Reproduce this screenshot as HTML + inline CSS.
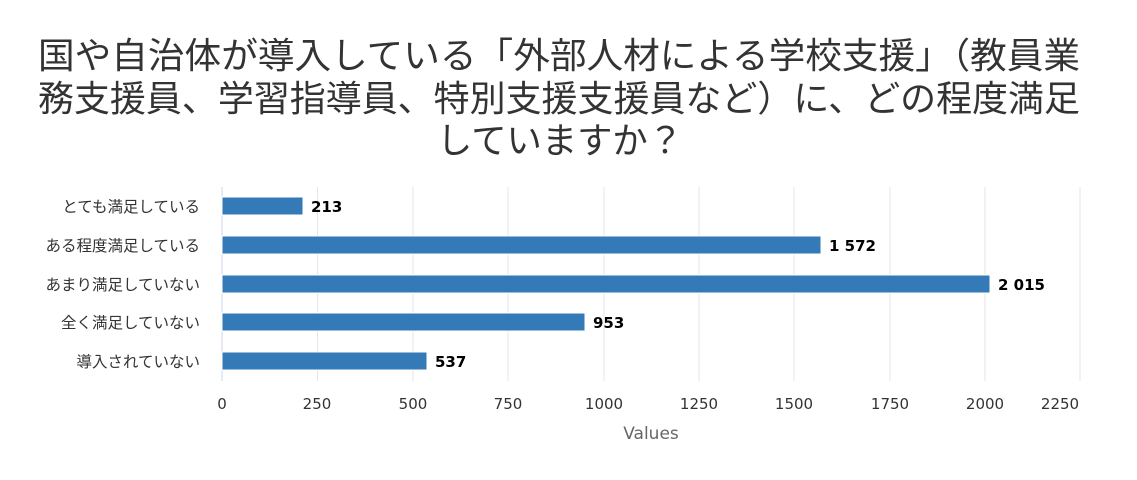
<!DOCTYPE html>
<html><head><meta charset="utf-8"><style>
body{margin:0;background:#fff;}
svg{display:block;font-family:"Liberation Sans","Noto Sans CJK JP",sans-serif;}
</style></head><body>
<svg width="1137" height="480" viewBox="0 0 1137 480">
<g font-size="36" fill="#333">
<text x="38" y="68" textLength="1042" lengthAdjust="spacingAndGlyphs">国や自治体が導入している「外部人材による学校支援」（教員業</text>
<text x="38" y="111" textLength="1042" lengthAdjust="spacingAndGlyphs">務支援員、学習指導員、特別支援支援員など）に、どの程度満足</text>
<text x="437" y="153" textLength="246" lengthAdjust="spacingAndGlyphs">していますか？</text>
</g>
<g stroke="#e6e6e6" stroke-width="1">
<line x1="317.5" y1="187" x2="317.5" y2="381"/><line x1="413" y1="187" x2="413" y2="381"/>
<line x1="508" y1="187" x2="508" y2="381"/><line x1="604" y1="187" x2="604" y2="381"/>
<line x1="699" y1="187" x2="699" y2="381"/><line x1="794" y1="187" x2="794" y2="381"/>
<line x1="890" y1="187" x2="890" y2="381"/><line x1="985" y1="187" x2="985" y2="381"/>
<line x1="1080" y1="187" x2="1080" y2="381"/>
</g>
<line x1="222" y1="187" x2="222" y2="381" stroke="#ccd6eb" stroke-width="1"/>
<g fill="#337ab7" stroke="#fff" stroke-width="1">
<rect x="222" y="197" width="81" height="18"/>
<rect x="222" y="236" width="599" height="18"/>
<rect x="222" y="275" width="768" height="18"/>
<rect x="222" y="313" width="363" height="18"/>
<rect x="222" y="352" width="205" height="18"/>
</g>
<g font-size="15" font-weight="bold" fill="#000" font-family="DejaVu Sans, sans-serif">
<text x="311" y="212">213</text>
<text x="829" y="251">1 572</text>
<text x="998" y="290">2 015</text>
<text x="593" y="328">953</text>
<text x="435" y="367">537</text>
</g>
<g font-size="15.5" fill="#333" text-anchor="end">
<text x="200" y="212">とても満足している</text>
<text x="200" y="251">ある程度満足している</text>
<text x="200" y="290">あまり満足していない</text>
<text x="200" y="328">全く満足していない</text>
<text x="200" y="367">導入されていない</text>
</g>
<g font-size="15" fill="#333" text-anchor="middle" font-family="DejaVu Sans, sans-serif">
<text x="222" y="409">0</text><text x="317" y="409">250</text><text x="413" y="409">500</text>
<text x="508" y="409">750</text><text x="604" y="409">1000</text><text x="699" y="409">1250</text>
<text x="794" y="409">1500</text><text x="890" y="409">1750</text><text x="985" y="409">2000</text>
<text x="1060" y="409">2250</text>
</g>
<text x="651" y="439" font-size="17" fill="#666" text-anchor="middle" font-family="DejaVu Sans, sans-serif">Values</text>
</svg>
</body></html>
